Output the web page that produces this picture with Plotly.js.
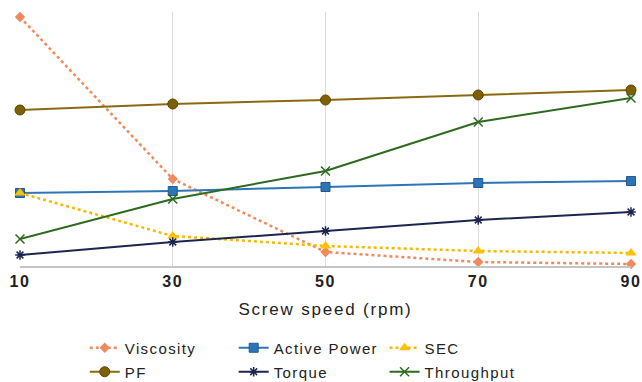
<!DOCTYPE html>
<html><head><meta charset="utf-8">
<script src="https://cdn.plot.ly/plotly-3.0.1.min.js"></script>
<style>
body{margin:0;background:#fff}
#chart .infolayer g[class^="legend"] text{letter-spacing:1.4px !important}
#chart .infolayer g[class^="legend"], #chart .infolayer g[class^="legend"] *{clip-path:none !important}
#chart .xtick text{letter-spacing:1.5px}
#chart .g-xtitle text{letter-spacing:1.8px}
</style>
</head><body>
<div id="chart" style="width:642px;height:382px"></div>
<script>
const speeds = [10, 30, 50, 70, 90];
const tickLabels = ['10', '30', '50', '70', '90'];
// relative values (arbitrary units)
const viscosity = [249, 87, 14, 4, 2];
const activePower = [73, 75, 79, 83, 85];
const sec = [73, 30, 20, 15, 13];
const pf = [156, 162, 166, 171, 176];
const torque = [11, 24, 35, 46, 54];
const throughput = [27, 67, 95, 144, 168];

const traces = [
  {name:'Viscosity', y:viscosity, legend:'legend', line:{color:'#F08A5D', width:2.5, dash:'dot'},
   marker:{symbol:'diamond', size:8, color:'#F08A5D'}},
  {name:'Active Power', y:activePower, legend:'legend2', line:{color:'#2E75B6', width:2},
   marker:{symbol:'square', size:9, color:'#2E75B6', line:{color:'#1F5A96', width:1}}},
  {name:'SEC', y:sec, legend:'legend3', line:{color:'#F5BA00', width:2.5, dash:'dot'},
   marker:{symbol:'triangle-up', size:10, color:'#FFC000'}},
  {name:'PF', y:pf, legend:'legend4', line:{color:'#8A6A10', width:2},
   marker:{symbol:'circle', size:10, color:'#7F6000', line:{color:'#5C4500', width:1}}},
  {name:'Torque', y:torque, legend:'legend5', line:{color:'#1B2550', width:2},
   marker:{symbol:'asterisk-open', size:8, color:'#1B2550', line:{color:'#1B2550', width:1.5}}},
  {name:'Throughput', y:throughput, legend:'legend6', line:{color:'#2C6A1E', width:2},
   marker:{symbol:'x-thin-open', size:9, color:'#2C6A1E', line:{color:'#2C6A1E', width:1.5}}}
].map(t => Object.assign({x:speeds, type:'scatter', mode:'lines+markers', cliponaxis:false}, t));

function leg(x, y){
  return {xref:'container', yref:'container', x:x, y:y, xanchor:'left', yanchor:'middle',
    font:{size:15, color:'#222'}, bgcolor:'rgba(0,0,0,0)', borderwidth:0};
}
const colX = [0.132, 0.364, 0.599];
const rowY = [1 - 348/382, 1 - 372/382];

const layout = {
  width:642, height:382,
  margin:{l:20, r:11, t:12, b:116, autoexpand:false},
  paper_bgcolor:'#fff', plot_bgcolor:'#fff',
  font:{family:'Liberation Sans, Arial, sans-serif', color:'#222'},
  xaxis:{range:[10,90], tickvals:speeds, ticktext:tickLabels,
    showgrid:true, gridcolor:'#dcdcdc', gridwidth:1,
    showline:true, linecolor:'#c4c4c4', linewidth:1.5, zeroline:false,
    ticks:'', ticklen:0, tickfont:{size:16, color:'#222', weight:'bold'},
    title:{text:'Screw speed (rpm)', font:{size:17, color:'#222'}, standoff:14}},
  yaxis:{range:[0,254], tickvals:[254], showgrid:true, gridcolor:'#e4e4e4',
    showticklabels:false, zeroline:false, showline:false, ticks:''},
  showlegend:true,
  legend:leg(colX[0], rowY[0]),
  legend2:leg(colX[1], rowY[0]),
  legend3:leg(colX[2], rowY[0]),
  legend4:leg(colX[0], rowY[1]),
  legend5:leg(colX[1], rowY[1]),
  legend6:leg(colX[2], rowY[1]),
  hovermode:false
};
Plotly.newPlot('chart', traces, layout, {displayModeBar:false, staticPlot:true});
</script>
</body></html>
